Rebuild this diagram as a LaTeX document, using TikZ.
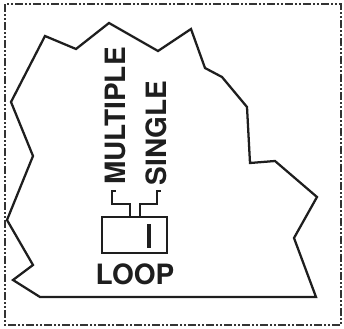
\documentclass[tikz,border=0pt]{standalone}
\usepackage{fontspec}
\setmainfont{TeX Gyre Heros}
\usepackage{tikz}
\usetikzlibrary{calc,positioning}
\definecolor{Ink}{HTML}{1E1E1E}
\definecolor{Frame}{HTML}{333333}

\begin{document}
\begin{tikzpicture}[x=0.75pt,y=-0.75pt,
    wire/.style={draw=Ink,line width=1.6pt,line join=miter},
    tag/.style={inner sep=0pt,font=\fontsize{21}{25}\selectfont\bfseries,text=Ink}]
  \useasboundingbox (0,0) rectangle (344,329);
  % frame
  \draw[Frame,line width=1.5pt,dash pattern=on 6pt off 1.5pt on 1.5pt off 1.5pt on 1.5pt off 1.5pt]
    (5,4) rectangle (341,325);
  % outline of the area
  \draw[wire,line width=1.7pt]
    (40,297) -- (13,280) -- (33,265) -- (7,220) -- (33,156) -- (11,102)
    -- (45,36) -- (76,49) -- (109,23) -- (158,51) -- (191,29) -- (205,68)
    -- (222,77) -- (247,107) -- (250,163) -- (275,161) -- (317,197)
    -- (294,238) -- (316,297) -- cycle;
  % switch
  \node[draw=Ink,line width=1.5pt,minimum width=48.75pt,minimum height=27pt,inner sep=0pt]
    (loopbox) at (135,235) {};
  \draw[Ink,line width=3.2pt] ($(loopbox.center)+(14,-11)$) -- ($(loopbox.center)+(14,13)$);
  \node[tag] (looplabel) at (135,274) {LOOP};
  \node[tag,rotate=90] (multiple) at (115,116) {MULTIPLE};
  \node[tag,rotate=90] (single) at (156,133) {SINGLE};
  % leads
  \coordinate (mtab) at (116,191);
  \coordinate (stab) at (161,191);
  \draw[wire] (mtab) -- ++(-4,0) -- ++(0,13) -| ([xshift=-3.75pt]loopbox.north);
  \draw[wire] (stab) -- ++(-4,0) -- ++(0,13) -| ([xshift=3.75pt]loopbox.north);
\end{tikzpicture}
\end{document}
